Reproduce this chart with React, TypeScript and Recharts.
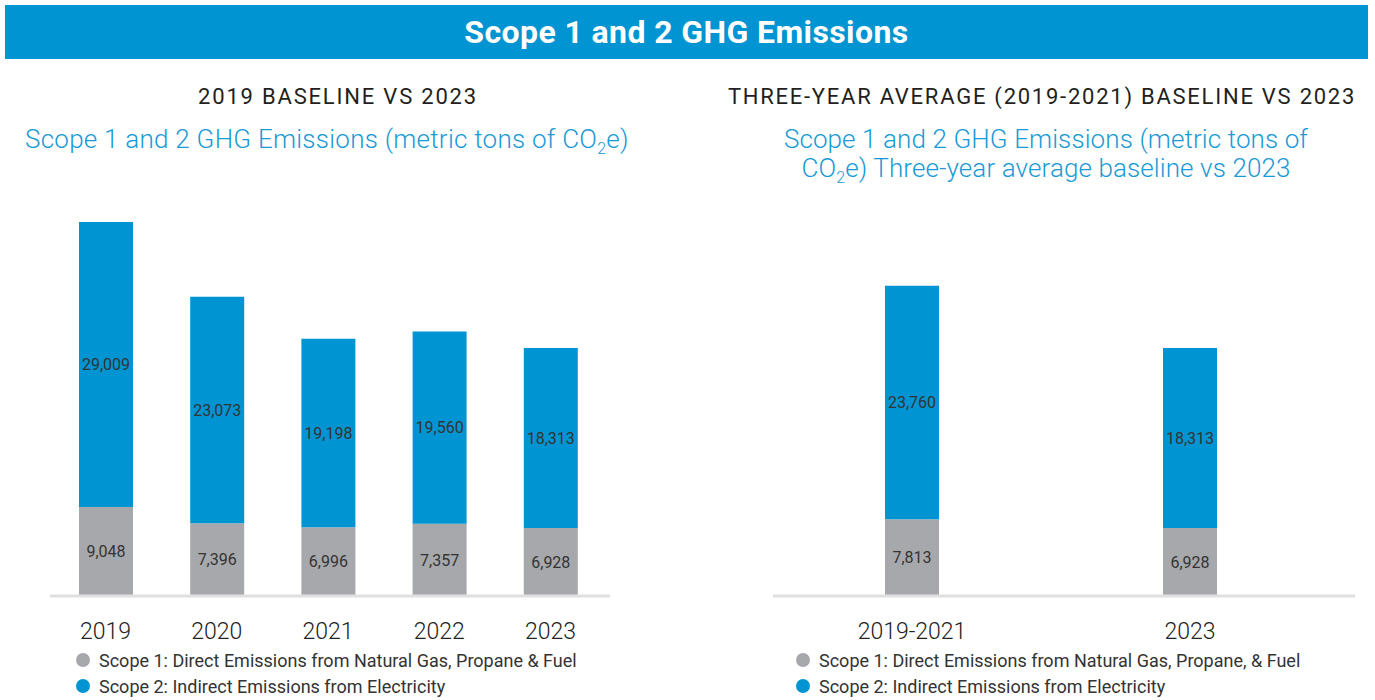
import React from "react";
import { BarChart, Bar, XAxis, YAxis, LabelList } from "recharts";

const yearCategories = ["2019", "2020", "2021", "2022", "2023"];
const yearScope1 = [9048, 7396, 6996, 7357, 6928];
const yearScope2 = [29009, 23073, 19198, 19560, 18313];

const avgCategories = ["2019-2021", "2023"];
const avgScope1 = [7813, 6928];
const avgScope2 = [23760, 18313];

const scope1Label = "Scope 1: Direct Emissions from Natural Gas, Propane & Fuel";
const scope1LabelAvg = "Scope 1: Direct Emissions from Natural Gas, Propane, & Fuel";
const scope2Label = "Scope 2: Indirect Emissions from Electricity";

const BLUE = "#0095d2";
const GRAY = "#a7a8ab";
const FONT = "Roboto, 'Open Sans', sans-serif";

const fmt = (v: any) => Number(v).toLocaleString("en-US");

const Tick = (props: any) => {
  const { x, y, payload } = props;
  return (
    <text x={x} y={y + 35} textAnchor="middle" fill="#222" fontSize={23} fontWeight={300} fontFamily={FONT}>
      {payload.value}
    </text>
  );
};

function StackChart({ cats, s1, s2, width, left, right, padRight }: any) {
  const data = cats.map((c: string, i: number) => ({ name: c, s1: s1[i], s2: s2[i] }));
  return (
    <BarChart
      width={width}
      height={460}
      data={data}
      margin={{ top: 13, right: right, bottom: 4, left: left }}
      barSize={54}
    >
      <XAxis
        dataKey="name"
        axisLine={{ stroke: "#e0e0e0", strokeWidth: 3 }}
        tickLine={false}
        tick={<Tick />}
        height={50}
        padding={{ left: 0, right: padRight }}
        interval={0}
      />
      <YAxis hide domain={[0, 40000]} />
      <Bar dataKey="s1" stackId="a" fill={GRAY} isAnimationActive={false}>
        <LabelList dataKey="s1" position="center" formatter={fmt} fill="#333" fontSize={16} fontFamily={FONT} />
      </Bar>
      <Bar dataKey="s2" stackId="a" fill={BLUE} isAnimationActive={false}>
        <LabelList dataKey="s2" position="center" formatter={fmt} fill="#333" fontSize={16} fontFamily={FONT} />
      </Bar>
    </BarChart>
  );
}

const Legend = ({ x, y, l1 }: any) => (
  <div style={{ position: "absolute", left: x, top: y, fontFamily: FONT, fontSize: 18, color: "#333" }}>
    {[
      [GRAY, l1],
      [BLUE, scope2Label],
    ].map(([c, t], i) => (
      <div key={i} style={{ display: "flex", alignItems: "center", height: 26, whiteSpace: "nowrap" }}>
        <span style={{ width: 14, height: 14, borderRadius: 7, background: c, marginRight: 9, display: "inline-block" }} />
        {t}
      </div>
    ))}
  </div>
);

export default function App() {
  return (
    <div style={{ position: "absolute", left: 0, top: 0, width: 1375, height: 700, background: "#fff", fontFamily: FONT, overflow: "hidden" }}>
      <div
        style={{
          position: "absolute", left: 5, top: 5, width: 1363, height: 54, background: BLUE,
          color: "#fff", fontWeight: 700, fontSize: 32, letterSpacing: 0.4, display: "flex", alignItems: "center", justifyContent: "center",
        }}
      >
        Scope 1 and 2 GHG Emissions
      </div>

      <div style={{ position: "absolute", left: 0, width: 676, top: 84, textAlign: "center", fontSize: 22, letterSpacing: 1.8, color: "#231f20" }}>
        2019 BASELINE VS 2023
      </div>
      <div style={{ position: "absolute", left: 25, top: 124, fontSize: 26, fontWeight: 300, letterSpacing: 0.25, color: "#1a9ad6", whiteSpace: "nowrap" }}>
        Scope 1 and 2 GHG Emissions (metric tons of CO<sub style={{ fontSize: 16, lineHeight: 0 }}>2</sub>e)
      </div>

      <div style={{ position: "absolute", left: 700, width: 684, top: 84, textAlign: "center", fontSize: 22, letterSpacing: 1.75, color: "#231f20", whiteSpace: "nowrap" }}>
        THREE-YEAR AVERAGE (2019-2021) BASELINE VS 2023
      </div>
      <div style={{ position: "absolute", left: 700, width: 692, top: 125, textAlign: "center", fontSize: 26, fontWeight: 300, letterSpacing: 0.1, color: "#1a9ad6", lineHeight: "29px" }}>
        Scope 1 and 2 GHG Emissions (metric tons of
        <br />
        CO<sub style={{ fontSize: 16, lineHeight: 0 }}>2</sub>e) Three-year average baseline vs 2023
      </div>

      <div style={{ position: "absolute", left: 0, top: 190 }}>
        <StackChart cats={yearCategories} s1={yearScope1} s2={yearScope2} width={660} left={50} right={50} padRight={4} />
      </div>
      <div style={{ position: "absolute", left: 700, top: 190 }}>
        <StackChart cats={avgCategories} s1={avgScope1} s2={avgScope2} width={675} left={73} right={20} padRight={26} />
      </div>

      <Legend x={76} y={647} l1={scope1Label} />
      <Legend x={796} y={647} l1={scope1LabelAvg} />
    </div>
  );
}
